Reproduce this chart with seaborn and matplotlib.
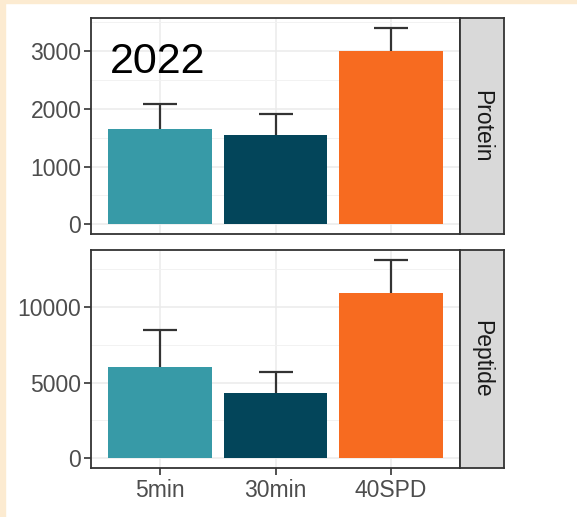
import matplotlib
matplotlib.use("Agg")
import matplotlib.pyplot as plt
from matplotlib.patches import Rectangle
from matplotlib.ticker import MultipleLocator
import seaborn as sns
import pandas as pd

# Data
categories = ["5min", "30min", "40SPD"]
protein_mean = [1650, 1550, 3000]
protein_sd = [430, 360, 410]
peptide_mean = [6000, 4300, 10950]
peptide_sd = [2450, 1400, 2170]
colors = ["#379AA7", "#03455A", "#F76B20"]
year_label = "2022"

sns.set_theme(style="white")
plt.rcParams["font.family"] = ["Liberation Sans", "DejaVu Sans"]

W, H = 577, 517
fig = plt.figure(figsize=(W / 100, H / 100), dpi=100, facecolor="white")

# peach frame along the left and top edges
fig.patches.append(Rectangle((0, 0), 5 / W, 1, transform=fig.transFigure,
                             color="#FCEBD1", zorder=0))
fig.patches.append(Rectangle((0, 1 - 3 / H), 1, 3 / H, transform=fig.transFigure,
                             color="#FCEBD1", zorder=0))


def frac(x0, y0, x1, y1):
    return [x0 / W, 1 - y1 / H, (x1 - x0) / W, (y1 - y0) / H]


edge = "#333333"
panels = [
    ("Protein", protein_mean, protein_sd, frac(91, 18, 460, 234), (-170, 3578), 1000),
    ("Peptide", peptide_mean, peptide_sd, frac(91, 250, 460, 468), (-660, 13780), 5000),
]

for i, (name, mean, sd, rect, ylim, step) in enumerate(panels):
    ax = fig.add_axes(rect)
    df = pd.DataFrame({"cond": categories, "value": mean})
    ax.set_axisbelow(True)
    # error bars (mean ± sd) sit behind the bars, so only the upper arm shows
    ax.errorbar(range(len(categories)), mean, yerr=sd, fmt="none",
                ecolor=edge, elinewidth=1.6, capsize=12, capthick=1.6, zorder=1)
    sns.barplot(data=df, x="cond", y="value", hue="cond", order=categories,
                hue_order=categories, palette=colors, width=0.9, legend=False,
                errorbar=None, ax=ax, zorder=2, saturation=1, linewidth=0)
    ax.set_xlim(-0.6, 2.6)
    ax.set_ylim(*ylim)
    ax.yaxis.set_major_locator(MultipleLocator(step))
    ax.yaxis.set_minor_locator(MultipleLocator(step / 2))
    ax.grid(True, which="major", color="#EBEBEB", lw=1.1)
    ax.grid(True, which="minor", axis="y", color="#F2F2F2", lw=0.7)
    ax.set_xlabel("")
    ax.set_ylabel("")
    for s in ax.spines.values():
        s.set_color(edge)
        s.set_linewidth(1.3)
    ax.tick_params(axis="y", which="major", left=True, length=5, width=1.2,
                   color=edge, labelsize=16.5, labelcolor="#4D4D4D", pad=2)
    ax.tick_params(axis="y", which="minor", left=False)
    if i == 0:
        ax.tick_params(axis="x", bottom=False, labelbottom=False)
        ax.text(0.05, 0.745, year_label, transform=ax.transAxes, fontsize=31,
                color="black", ha="left", va="baseline")
    else:
        ax.tick_params(axis="x", bottom=True, length=5, width=1.2, color=edge,
                       labelsize=16.5, labelcolor="#4D4D4D", pad=3)

    # facet strip on the right
    r = rect
    sax = fig.add_axes([r[0] + r[2], r[1], 44 / W, r[3]])
    sax.set_facecolor("#D9D9D9")
    sax.set_xticks([])
    sax.set_yticks([])
    for s in sax.spines.values():
        s.set_color(edge)
        s.set_linewidth(1.3)
    sax.text(0.5, 0.5, name, transform=sax.transAxes, rotation=-90,
             ha="center", va="center", fontsize=16.5, color="#1A1A1A")

fig.savefig("out.png", dpi=100, facecolor=fig.get_facecolor())
